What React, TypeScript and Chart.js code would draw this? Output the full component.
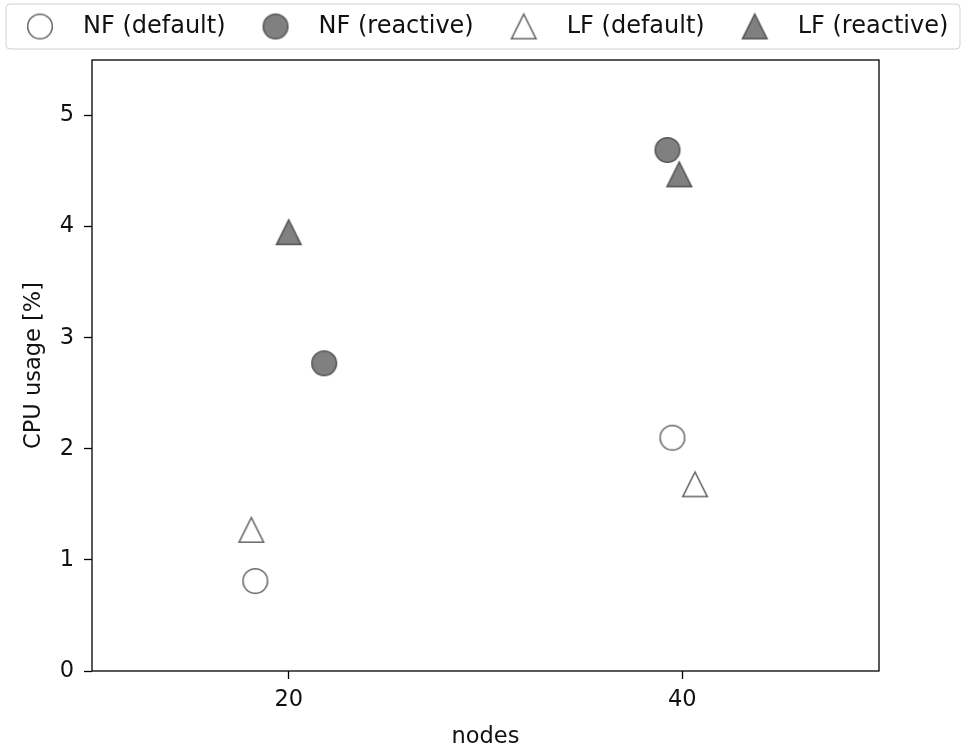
import React, { useEffect, useRef } from "react";
import { Chart, registerables } from "chart.js";

Chart.register(...registerables);

const seriesNames = ["NF (default)", "NF (reactive)", "LF (default)", "LF (reactive)"];
const nfDefaultX = [18.3, 39.5];
const nfDefaultY = [0.81, 2.1];
const nfReactiveX = [21.8, 39.25];
const nfReactiveY = [2.77, 4.69];
const lfDefaultX = [18.1, 40.65];
const lfDefaultY = [1.27, 1.68];
const lfReactiveX = [20.0, 39.85];
const lfReactiveY = [3.95, 4.47];
const xTicks = [20, 40];
const yTicks = [0, 1, 2, 3, 4, 5];

const FONT = "'DejaVu Sans', sans-serif";
const FS = 22.5;
const LFS = 24;
const TEXT = "#111";

function makeMarker(shape: string, filled: boolean): HTMLCanvasElement {
  const c = document.createElement("canvas");
  c.width = 32;
  c.height = 32;
  const ctx = c.getContext("2d")!;
  const r = 12.3;
  ctx.lineWidth = 1.5;
  ctx.beginPath();
  if (shape === "circle") {
    ctx.arc(16, 16, r, 0, Math.PI * 2);
  } else {
    ctx.moveTo(16, 16 - r);
    ctx.lineTo(16 - r, 16 + r);
    ctx.lineTo(16 + r, 16 + r);
    ctx.closePath();
  }
  ctx.fillStyle = filled ? "#808080" : "#ffffff";
  ctx.strokeStyle = filled ? "#555555" : "#666666";
  ctx.fill();
  ctx.stroke();
  return c;
}

const framePlugin = {
  id: "frame",
  afterDraw(chart: any) {
    const { ctx, chartArea } = chart;
    ctx.save();
    ctx.strokeStyle = "#000";
    ctx.lineWidth = 1.3;
    ctx.strokeRect(chartArea.left, chartArea.top, chartArea.right - chartArea.left, chartArea.bottom - chartArea.top);
    ctx.restore();
  },
};

const legendPlugin = {
  id: "boxLegend",
  afterDraw(chart: any) {
    const ctx = chart.ctx;
    ctx.save();
    const bx = 6, by = 4, bw = 954, bh = 45, rr = 4;
    ctx.beginPath();
    ctx.moveTo(bx + rr, by);
    ctx.lineTo(bx + bw - rr, by);
    ctx.quadraticCurveTo(bx + bw, by, bx + bw, by + rr);
    ctx.lineTo(bx + bw, by + bh - rr);
    ctx.quadraticCurveTo(bx + bw, by + bh, bx + bw - rr, by + bh);
    ctx.lineTo(bx + rr, by + bh);
    ctx.quadraticCurveTo(bx, by + bh, bx, by + bh - rr);
    ctx.lineTo(bx, by + rr);
    ctx.quadraticCurveTo(bx, by, bx + rr, by);
    ctx.closePath();
    ctx.fillStyle = "rgba(255,255,255,0.8)";
    ctx.fill();
    ctx.strokeStyle = "#d0d0d0";
    ctx.lineWidth = 1;
    ctx.stroke();
    ctx.font = `${LFS}px ${FONT}`;
    ctx.fillStyle = TEXT;
    ctx.textBaseline = "middle";
    ctx.textAlign = "left";
    const cy = by + bh / 2;
    let cx = 40;
    chart.data.datasets.forEach((ds: any) => {
      const img = ds.pointStyle as HTMLCanvasElement;
      ctx.drawImage(img, cx - img.width / 2, cy - img.height / 2);
      const tx = cx + 43;
      ctx.fillText(ds.label, tx, cy);
      const w = ctx.measureText(ds.label).width;
      cx = tx + w + 50;
    });
    ctx.restore();
  },
};

export default function App() {
  const ref = useRef<HTMLCanvasElement>(null);
  useEffect(() => {
    const toPts = (xs: number[], ys: number[]) => xs.map((x, i) => ({ x, y: ys[i] }));
    const markers = [
      makeMarker("circle", false),
      makeMarker("circle", true),
      makeMarker("triangle", false),
      makeMarker("triangle", true),
    ];
    const data = [
      toPts(nfDefaultX, nfDefaultY),
      toPts(nfReactiveX, nfReactiveY),
      toPts(lfDefaultX, lfDefaultY),
      toPts(lfReactiveX, lfReactiveY),
    ];
    const chart = new Chart(ref.current!, {
      type: "scatter",
      data: {
        datasets: seriesNames.map((name, i) => ({
          label: name,
          data: data[i],
          pointStyle: markers[i] as any,
          pointRadius: 13,
          showLine: false,
        })),
      },
      options: {
        animation: false,
        responsive: true,
        maintainAspectRatio: false,
        layout: { padding: { top: 60, right: 85, left: 0, bottom: 0 } },
        plugins: { legend: { display: false }, tooltip: { enabled: false } },
        scales: {
          x: {
            type: "linear",
            min: 10,
            max: 50,
            afterBuildTicks: (s: any) => {
              s.ticks = xTicks.map((v) => ({ value: v }));
            },
            afterFit: (s: any) => {
              s.height = 78;
            },
            grid: { display: true, drawOnChartArea: false, drawTicks: true, tickLength: 8, tickColor: "#000", tickWidth: 1.3 },
            border: { display: false },
            ticks: { color: TEXT, padding: 8, font: { family: FONT, size: FS }, maxRotation: 0 },
            title: { display: true, text: "nodes", color: TEXT, font: { family: FONT, size: FS }, padding: { top: 0, bottom: -2 } },
          },
          y: {
            type: "linear",
            min: 0,
            max: 5.5,
            afterBuildTicks: (s: any) => {
              s.ticks = yTicks.map((v) => ({ value: v }));
            },
            afterFit: (s: any) => {
              s.width = 92;
            },
            grid: { display: true, drawOnChartArea: false, drawTicks: true, tickLength: 8, tickColor: "#000", tickWidth: 1.3 },
            border: { display: false },
            ticks: { color: TEXT, padding: 10, font: { family: FONT, size: FS } },
            title: { display: true, text: "CPU usage [%]", color: TEXT, font: { family: FONT, size: FS }, padding: { top: 21, bottom: 0 } },
          },
        },
      },
      plugins: [framePlugin, legendPlugin],
    });
    return () => chart.destroy();
  }, []);
  return (
    <div style={{ position: "absolute", left: 0, top: 0, width: 964, height: 749, background: "#fff" }}>
      <canvas ref={ref} />
    </div>
  );
}
